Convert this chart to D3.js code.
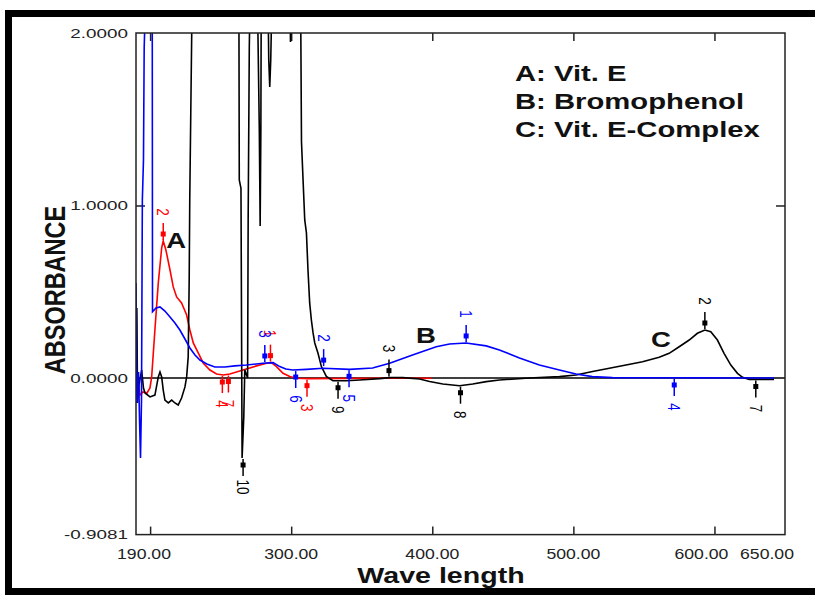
<!DOCTYPE html>
<html>
<head>
<meta charset="utf-8">
<script src="https://cdn.jsdelivr.net/npm/d3@7"></script>
<style>
body{margin:0;background:#fff;}
text{font-family:"Liberation Sans",Arial,sans-serif;}
</style>
</head>
<body>
<div id="chart"></div>
<script>
// ---- data ----
// A: Vit. E (red)
var vitE_wl  = [190.0,191.1,192.8,195.0,197.8,199.9,201.1,203.4,205.8,208.2,209.3,211.2,214.1,216.4,218.8,222.3,225.9,228.2,230.6,234.1,237.6,242.4,247.1,251.8,256.5,265.9,275.4,282.5,286.0,289.6,294.2,299.0,303.7,313.1,362.7,399.5];
var vitE_abs = [-0.070,-0.012,-0.099,-0.081,-0.087,-0.058,0.006,0.278,0.551,0.754,0.794,0.742,0.626,0.528,0.470,0.435,0.365,0.278,0.203,0.145,0.087,0.046,0.023,0.017,0.023,0.046,0.070,0.085,0.089,0.066,0.027,0.008,-0.002,-0.004,-0.002,-0.002];

// B: Bromophenol (blue)
var bromo_wl  = [190.0,190.7,191.8,192.5,193.2,193.9,194.5,195.3,195.8,197.1,199.2,201.5,201.7,204.2,207.0,210.5,214.1,217.6,221.1,224.7,228.2,231.8,235.3,240.2,245.9,253.0,260.1,268.3,279.9,287.2,291.9,296.2,301.1,310.8,322.6,341.4,357.7,369.8,386.0,402.8,412.2,424.0,438.2,447.6,461.8,475.9,490.1,501.9,513.4,527.6,642.2];
var bromo_abs = [0.551,-0.145,0.035,-0.243,-0.464,-0.128,1.032,1.264,1.913,2.30,2.30,2.30,0.384,0.406,0.412,0.388,0.354,0.319,0.278,0.226,0.174,0.133,0.104,0.081,0.064,0.064,0.070,0.075,0.085,0.089,0.066,0.052,0.046,0.050,0.056,0.050,0.058,0.085,0.133,0.181,0.197,0.203,0.186,0.162,0.116,0.075,0.046,0.023,0.008,0.002,0.000];

// C: Vit. E-Complex (black)
var cplx_wl  = [190.0,190.6,191.1,192.1,194.0,195.3,196.4,199.9,203.4,205.8,207.0,208.2,209.3,210.5,212.9,215.3,217.6,219.9,222.3,224.7,225.9,227.0,227.7,228.1,228.8,229.5,230.0,262.9,263.2,264.4,265.2,266.4,267.1,269.1,269.5,270.3,271.0,
                275.9,277.4,278.0,278.5,278.8,283.4,284.1,284.8,285.5,286.6,299.0,299.5,300.1,306.6,307.3,308.5,309.6,310.8,311.9,313.1,314.3,315.5,316.7,319.0,321.4,324.9,329.6,339.1,348.5,362.7,369.8,379.2,391.0,398.1,407.5,419.3,428.7,438.2,447.6,468.8,490.1,501.9,513.6,525.5,537.3,549.0,560.8,567.9,575.0,582.1,587.9,593.2,597.4,602.1,606.8,611.6,616.3,619.9,624.6,642.2];
var cplx_abs = [-0.099,0.406,-0.145,-0.041,0.046,-0.058,-0.087,-0.110,-0.099,0.006,0.035,0.006,-0.070,-0.128,-0.145,-0.128,-0.145,-0.157,-0.116,-0.052,0.006,0.122,0.568,1.032,1.519,2.000,2.30,2.30,1.148,1.100,-0.464,-0.226,0.046,0.000,0.916,1.913,2.30,
                2.30,1.438,0.881,1.438,2.30,2.30,1.843,1.687,1.843,2.30,2.30,1.948,2.30,2.30,1.368,1.130,0.916,0.841,0.626,0.435,0.336,0.261,0.203,0.143,0.066,0.009,-0.016,-0.016,-0.012,-0.004,0.002,0.002,-0.006,-0.021,-0.035,-0.045,-0.035,-0.021,-0.012,0.000,0.008,0.017,0.037,0.056,0.075,0.094,0.120,0.143,0.181,0.220,0.259,0.278,0.268,0.220,0.143,0.075,0.027,0.004,-0.009,-0.009];

// peak / valley picks: number, wavelength, absorbance, P = peak, V = valley
var vitE_pick_no  = ["2","1","4","7","3"];
var vitE_pick_wl  = [209.3,285.3,251.2,255.5,311.2];
var vitE_pick_abs = [0.794,0.089,0.017,0.020,-0.004];
var vitE_pick_kind= ["P","P","V","V","V"];

var bromo_pick_no  = ["1","2","3","4","5","6"];
var bromo_pick_wl  = [424.0,323.0,281.3,571.5,341.0,303.2];
var bromo_pick_abs = [0.203,0.063,0.087,0.000,0.050,0.046];
var bromo_pick_kind= ["P","P","P","V","V","V"];

var cplx_pick_no  = ["2","3","7","8","9","10"];
var cplx_pick_wl  = [593.2,369.3,629.3,420.0,333.2,265.9];
var cplx_pick_abs = [0.278,0.002,-0.009,-0.045,-0.016,-0.464];
var cplx_pick_kind= ["P","P","V","V","V","V"];

// axes
var xLabelVals = [190,300,400,500,600,650];
var xLabels    = ["190.00","300.00","400.00","500.00","600.00","650.00"];
var xTickVals  = [200,300,400,500,600];
var yLabelVals = [2,1,0,-0.9081];
var yLabels    = ["2.0000","1.0000","0.0000","-0.9081"];

// curve letters
var letterText = ["A","B","C"];
var letterWl   = [211.5,388.5,555.0];
var letterAbs  = [0.752,0.200,0.180];

var legendLines = ["A: Vit. E","B: Bromophenol","C: Vit. E-Complex"];

// ---- drawing ----
var width=815,height=595;
var plot={left:136,right:785,top:33,bottom:534.6};

var svg=d3.select("#chart").append("svg")
    .attr("width",width)
    .attr("height",height);

var x=d3.scaleLinear().domain([190,650]).range([plot.left,plot.right]);
var y=d3.scaleLinear().domain([-0.9081,2]).range([plot.bottom,plot.top]);

// stretched text helper (the original picture is wide-stretched)
function stext(g,px,py,str,size,sx,opts){
    opts=opts||{};
    var t=g.append("g")
        .attr("transform","translate("+px+","+py+") scale("+sx+",1)"+(opts.rotate?" rotate("+opts.rotate+")":""))
        .append("text")
        .attr("font-size",size)
        .attr("fill",opts.color||"#111")
        .attr("text-anchor",opts.anchor||"start")
        .text(str);
    if(opts.bold) t.attr("font-weight","bold");
    if(opts.central) t.attr("dominant-baseline","central");
    return t;
}

// outer frame (left, top, bottom; right side is cut off)
svg.append("path")
    .attr("d","M"+(width+5)+",13.5 H8.5 V591.5 H"+(width+5))
    .attr("fill","none")
    .attr("stroke","#000")
    .attr("stroke-width",7);

svg.append("clipPath").attr("id","clip")
    .append("rect")
    .attr("x",plot.left).attr("y",plot.top)
    .attr("width",plot.right-plot.left).attr("height",plot.bottom-plot.top);

// ticks
function tickStyle(g){g.select(".domain").remove();g.selectAll("line").attr("stroke","#222").attr("stroke-width",1.5);}
svg.append("g").attr("transform","translate(0,"+plot.bottom+")")
    .call(d3.axisBottom(x).tickValues(xTickVals).tickSize(-8).tickFormat("")).call(tickStyle);
svg.append("g").attr("transform","translate(0,"+plot.top+")")
    .call(d3.axisTop(x).tickValues(xTickVals).tickSize(-8).tickFormat("")).call(tickStyle);
svg.append("g").attr("transform","translate("+plot.left+",0)")
    .call(d3.axisLeft(y).tickValues([1]).tickSize(-9).tickFormat("")).call(tickStyle);
svg.append("g").attr("transform","translate("+plot.right+",0)")
    .call(d3.axisRight(y).tickValues([1]).tickSize(-9).tickFormat("")).call(tickStyle);

// zero line
svg.append("line")
    .attr("x1",x(190)).attr("x2",x(650))
    .attr("y1",y(0)).attr("y2",y(0))
    .attr("stroke","#000").attr("stroke-width",1.5);

var line=d3.line().x(function(d){return x(d[0]);}).y(function(d){return y(d[1]);});
var curves=svg.append("g").attr("clip-path","url(#clip)");

curves.append("path").datum(d3.zip(vitE_wl,vitE_abs))
    .attr("d",line).attr("fill","none").attr("stroke","#ff0000").attr("stroke-width",1.6);
curves.append("path").datum(d3.zip(cplx_wl,cplx_abs))
    .attr("d",line).attr("fill","none").attr("stroke","#000").attr("stroke-width",1.6);
curves.append("path").datum(d3.zip(bromo_wl,bromo_abs))
    .attr("d",line).attr("fill","none").attr("stroke","#0000ff").attr("stroke-width",1.6);

// plot border
svg.append("rect")
    .attr("x",plot.left).attr("y",plot.top)
    .attr("width",plot.right-plot.left).attr("height",plot.bottom-plot.top)
    .attr("fill","none").attr("stroke","#222").attr("stroke-width",1.5);

// peak picks
function picks(no,wl,ab,kind,color){
    var g=svg.append("g");
    for(var i=0;i<no.length;i++){
        var px=x(wl[i]),py=y(ab[i]),s=kind[i]=="P"?-1:1;
        g.append("line")
            .attr("x1",px).attr("x2",px)
            .attr("y1",py+s*1).attr("y2",py+s*18)
            .attr("stroke",color).attr("stroke-width",1.5);
        g.append("rect")
            .attr("x",px-2.5).attr("y",py+s*7-2.5)
            .attr("width",5).attr("height",5)
            .attr("fill",color);
        stext(g,px,py+s*29,no[i],13.5,1.26,{rotate:90,anchor:"middle",central:true,color:color});
    }
}
picks(vitE_pick_no,vitE_pick_wl,vitE_pick_abs,vitE_pick_kind,"#ff0000");
picks(bromo_pick_no,bromo_pick_wl,bromo_pick_abs,bromo_pick_kind,"#0000ff");
picks(cplx_pick_no,cplx_pick_wl,cplx_pick_abs,cplx_pick_kind,"#000");

// tick labels
var xNudge={190:8,600:-13,650:-18};
xLabelVals.forEach(function(v,i){
    stext(svg,x(v)+(xNudge[v]||0),559,xLabels[i],14,1.26,{anchor:"middle",color:"#222"});
});
yLabelVals.forEach(function(v,i){
    stext(svg,128,y(v),yLabels[i],13,1.45,{anchor:"end",central:true,color:"#222"});
});

// axis titles
stext(svg,441,583,"Wave length",22,1.3,{anchor:"middle",bold:true});
stext(svg,55.5,290,"ABSORBANCE",23.5,1.27,{anchor:"middle",bold:true,central:true,rotate:-90});

// curve letters
letterText.forEach(function(t,i){
    stext(svg,x(letterWl[i]),y(letterAbs[i]),t,22,1.25,{bold:true});
});

// legend
legendLines.forEach(function(t,i){
    stext(svg,515,80.7+i*28.3,t,22,1.33,{bold:true});
});
</script>
</body>
</html>
